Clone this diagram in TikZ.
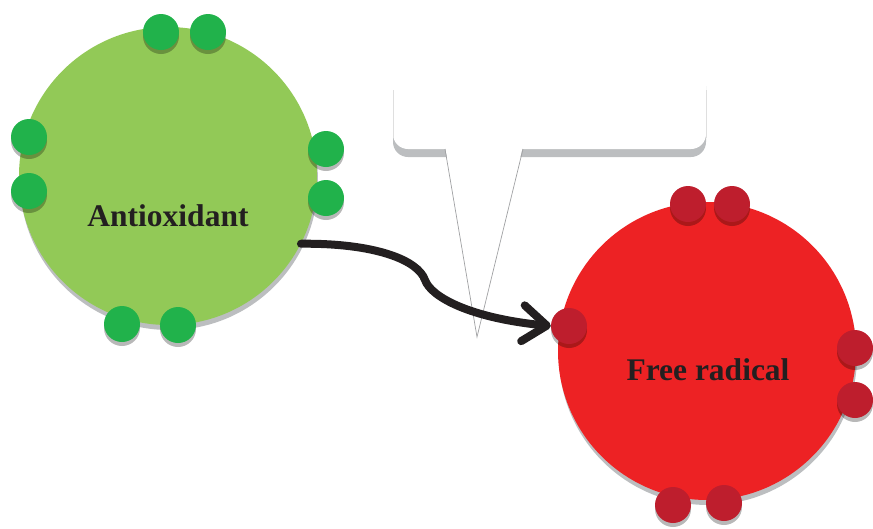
\documentclass[tikz,border=0pt]{standalone}
\usepackage{fontspec}
\setmainfont{Liberation Serif}
\usepackage{tikz}
\usetikzlibrary{
  arrows.meta,
  positioning,
  shadows
}
\definecolor{antigreen}{HTML}{92C957}
\definecolor{dotgreen}{HTML}{21B24B}
\definecolor{radred}{HTML}{ED2224}
\definecolor{dotred}{HTML}{BE1E2D}
\definecolor{inkblk}{HTML}{231F20}
\definecolor{shadegray}{HTML}{BCBEC0}

\begin{document}
\begin{tikzpicture}[x=1pt, y=-1pt,
  atom/.style={circle, minimum size=298pt, inner sep=0pt,
               drop shadow={shadow xshift=1pt, shadow yshift=-5pt,
                            fill=shadegray, opacity=1}},
  atomlbl/.style={font=\fontsize{31.5}{32}\selectfont\bfseries, text=inkblk},
  edot/.style={circle, minimum size=36pt, inner sep=0pt,
               drop shadow={shadow xshift=0pt, shadow yshift=-4pt,
                            fill=black, opacity=.28}},
  gdot/.style={edot, fill=dotgreen},
  rdot/.style={edot, fill=dotred},
  flow/.style={-{Straight Barb[length=24pt, width=36pt, round]},
               line width=8pt, draw=inkblk, line cap=round},
]
  \useasboundingbox (0,0) rectangle (873,528);

  % Speech bubble
  \coordinate (bubL) at (393,86);
  \coordinate (bubR) at (706,86);
  \coordinate (tip)  at (477,337);
  \fill[shadegray, rounded corners=15pt]
    (bubL) -- (393,157) -- (706,157) -- (bubR);
  \fill[white, rounded corners=15pt]
    (bubL) -- (393,149) -- (706,149) -- (bubR);
  \draw[gray!25, line width=0.6pt] (393,90) -- (393,138);
  \draw[gray!25, line width=0.6pt] (706,90) -- (706,138);
  \fill[white] (445,146) -- (tip) -- (523,146) -- cycle;
  \draw[shadegray!85!black, line width=0.7pt] (445,149) -- (tip) -- (523,149);

  % Antioxidant
  \node[atom, fill=antigreen] (anti) at (168,176) {};
  \node[atomlbl] (antitxt) at (168,216) {Antioxidant};
  \foreach \x/\y [count=\i] in {161/32, 208/32, 29/137, 29/191,
                                326/149, 326/198, 122/324, 178/325}
    \node[gdot] (g\i) at (\x,\y) {};

  % Free radical
  \node[atom, fill=radred] (rad) at (707,351) {};
  \node[atomlbl] (radtxt) at (708,370) {Free radical};
  \foreach \x/\y [count=\i] in {688/204, 732/204, 569/326, 855/348,
                                855/400, 673/505, 724/503}
    \node[rdot] (r\i) at (\x,\y) {};

  % Transfer
  \draw[flow] (anti.-27) .. controls (375,243) and (418,260) .. (425,280)
    .. controls (431,297) and (470,318) .. (r3.west);
\end{tikzpicture}
\end{document}
